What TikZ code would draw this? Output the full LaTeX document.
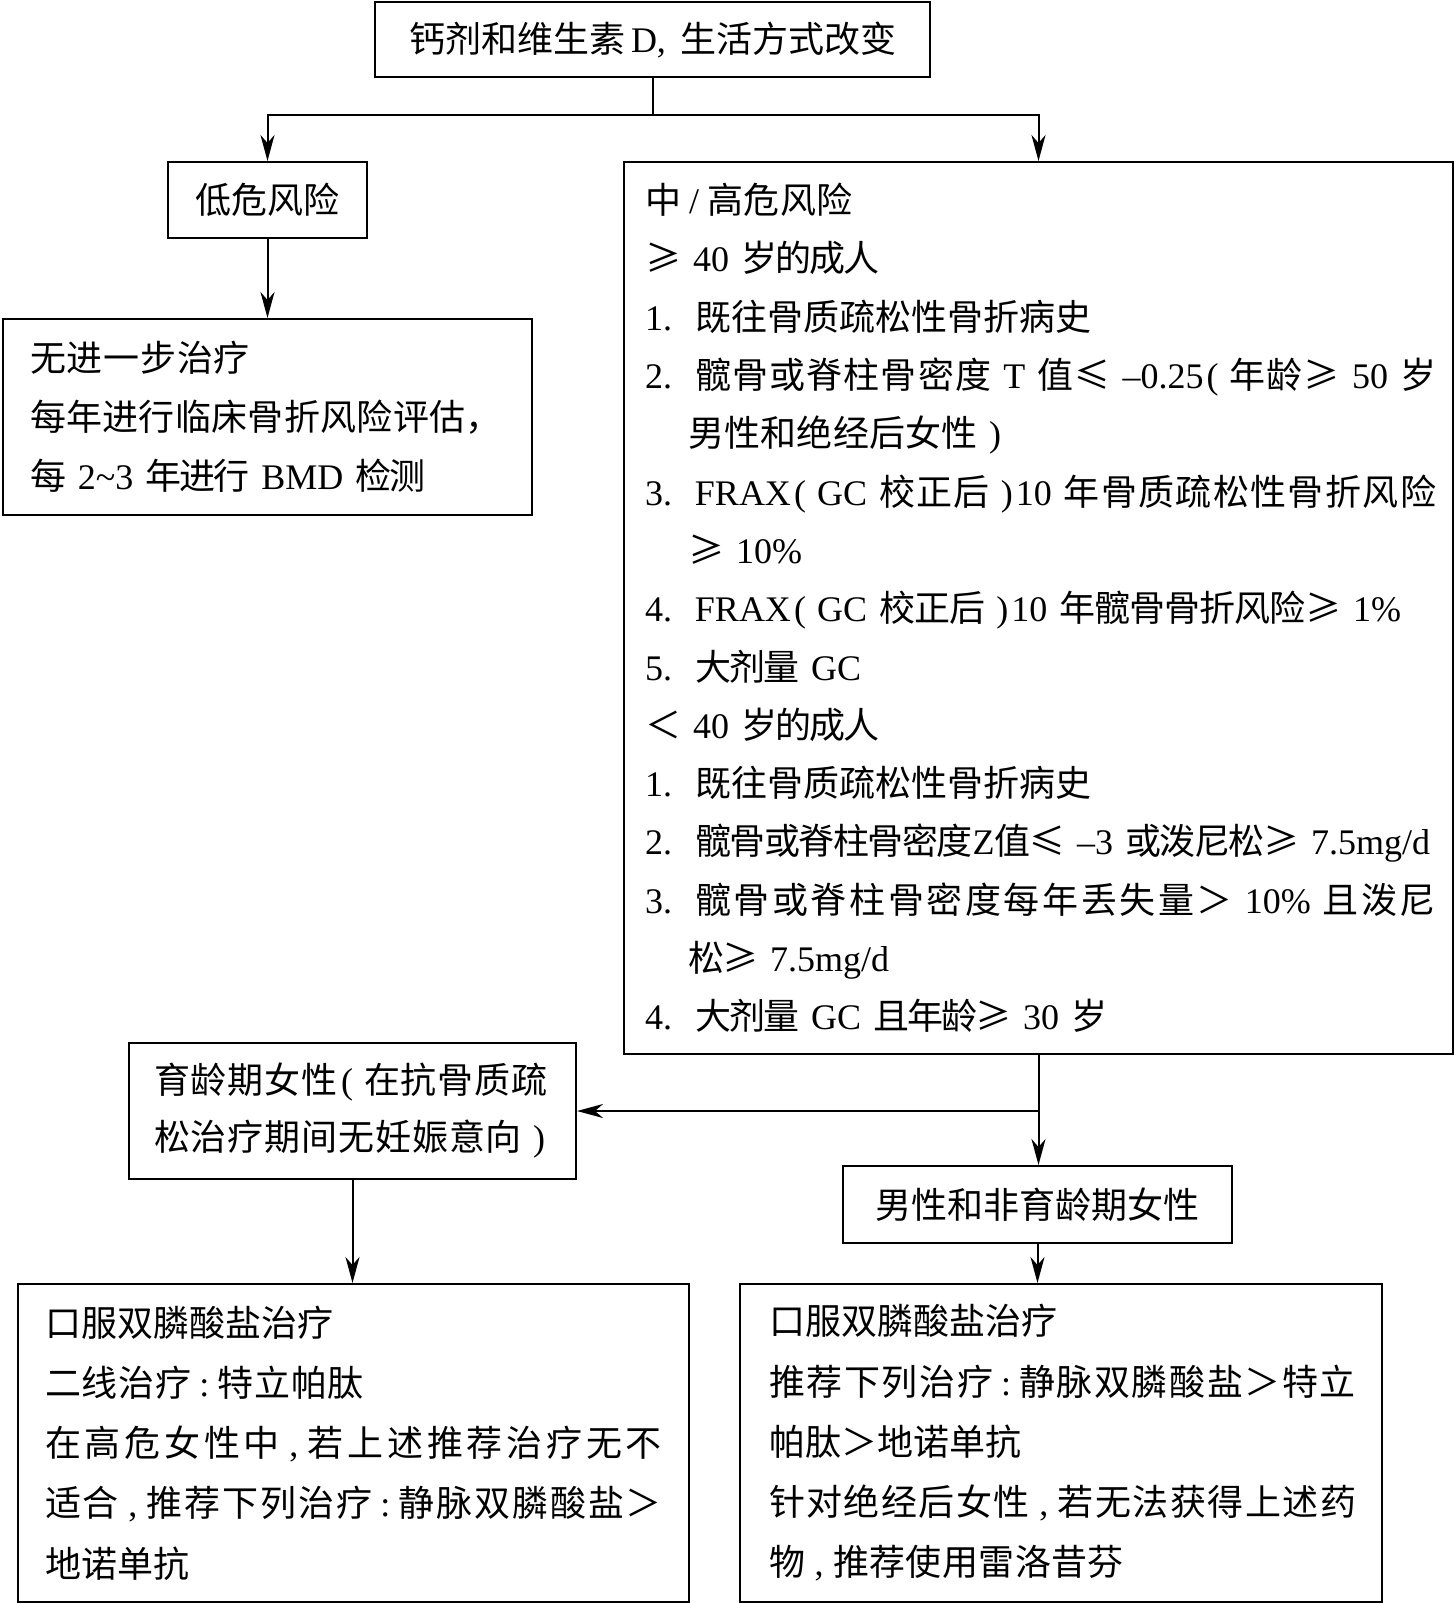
\documentclass[tikz,border=0pt]{standalone}
\usepackage{fontspec}
\setmainfont{Noto Sans CJK SC}
\newfontfamily\latf{Liberation Serif}
\usetikzlibrary{arrows.meta}
% stretchable glue between CJK characters (used by justified lines)
\XeTeXinterchartokenstate=1
\newXeTeXintercharclass\Xcls
\newcount\Xc
\Xc="4E00 \loop\XeTeXcharclass\Xc=\Xcls \advance\Xc by 1 \ifnum\Xc<"A000 \repeat
\Xc="FF01 \loop\XeTeXcharclass\Xc=\Xcls \advance\Xc by 1 \ifnum\Xc<"FF5F \repeat
\XeTeXcharclass"2264=\Xcls
\XeTeXcharclass"2265=\Xcls
\XeTeXinterchartoks\Xcls\Xcls={\nobreak\hskip0pt plus 8pt minus 2pt\relax}
\newcommand\Xe[1]{{\latf #1}}
\newcommand\Xlp{\makebox[26pt][l]{\hspace{3pt}\Xe{(}}}
\newcommand\Xrp{\makebox[26pt][r]{\Xe{)}\hspace{3pt}}}
\newcommand\Xcm{\makebox[28pt][c]{\Xe{,}}}
\newcommand\Xcl{\makebox[26pt][c]{\Xe{:}}}
\newcommand\Xsl{\makebox[26pt][c]{\Xe{/}}}
\newcommand\Xnum[1]{\makebox[50pt][l]{\Xe{#1}}}
\newcommand\Xind{\hspace*{43pt}}
\newcommand\Xw[2]{\makebox[#1pt][s]{#2}}
\begin{document}
\begin{tikzpicture}[x=1pt,y=-1pt,
  box/.style={draw, line width=2pt, anchor=north west, inner ysep=0pt, align=left},
  cbox/.style={draw, line width=2pt, anchor=north west, inner ysep=0pt, inner xsep=0pt, font=\fontsize{36}{40}\selectfont},
  ln/.style={line width=2pt},
  arr/.style={line width=2pt, -{Stealth[length=26pt,width=14pt,inset=8pt]}}]
\useasboundingbox (0,0) rectangle (1455,1603);

\node[cbox, minimum width=555pt, minimum height=75pt] (top) at (374,1)
  {钙剂和维生素\hspace{6pt}\Xe{D,}\hspace{14pt}生活方式改变};

\node[cbox, minimum width=199pt, minimum height=76pt] (low) at (167,161) {低危风险};

\node[box, font=\fontsize{36}{58.3}\selectfont, text width=787pt, inner xsep=21pt, minimum height=892pt] (high) at (623,161) {%
\Xw{208}{中\Xsl 高危风险}\\
\Xw{234}{≥~\Xe{40}~岁的成人}\\
\Xw{446}{\Xnum{1.}既往骨质疏松性骨折病史}\\
\Xw{791}{\Xnum{2.}髋骨或脊柱骨密度~\Xe{T}~值≤~\Xe{–0.25}\Xlp 年龄≥~\Xe{50}~岁}\\
\Xw{359}{\Xind 男性和绝经后女性\Xrp}\\
\Xw{791}{\Xnum{3.}\Xe{FRAX}\Xlp\Xe{GC}~校正后\Xrp\Xe{10}~年骨质疏松性骨折风险}\\
\Xw{152}{\Xind ≥~\Xe{10\%}}\\
\Xw{756}{\Xnum{4.}\Xe{FRAX}\Xlp\Xe{GC}~校正后\Xrp\Xe{10}~年髋骨骨折风险≥~\Xe{1\%}}\\
\Xw{216}{\Xnum{5.}大剂量~\Xe{GC}}\\
\Xw{234}{＜~\Xe{40}~岁的成人}\\
\Xw{446}{\Xnum{1.}既往骨质疏松性骨折病史}\\
\Xw{785}{\Xnum{2.}髋骨或脊柱骨密度\Xe{Z}值≤~\Xe{–3}~或泼尼松≥~\Xe{7.5mg/d}}\\
\Xw{791}{\Xnum{3.}髋骨或脊柱骨密度每年丢失量＞~\Xe{10\%}~且泼尼}\\
\Xw{240}{\Xind 松≥~\Xe{7.5mg/d}}\\
\Xw{458}{\Xnum{4.}大剂量~\Xe{GC}~且年龄≥~\Xe{30}~岁}};

\node[box, font=\fontsize{36}{59}\selectfont, text width=475pt, inner xsep=27pt, minimum height=196pt] (lowres) at (2,318) {%
\Xw{220}{无进一步治疗}\\
\Xw{472}{每年进行临床骨折风险评估，}\\
\Xw{385}{每~\Xe{2\textasciitilde 3}~年进行~\Xe{BMD}~检测}};

\node[box, font=\fontsize{36}{57}\selectfont, text width=397pt, inner xsep=25pt, minimum height=136pt] (child) at (128,1042) {%
\Xw{394}{育龄期女性\Xlp 在抗骨质疏}\\
\Xw{394}{松治疗期间无妊娠意向\Xrp}};

\node[cbox, minimum width=389pt, minimum height=77pt] (men) at (842,1165) {男性和非育龄期女性};

\node[box, font=\fontsize{36}{60.25}\selectfont, text width=617pt, inner xsep=27pt, minimum height=318pt] (bl) at (17,1283) {%
\Xw{289}{口服双膦酸盐治疗}\\
\Xw{319}{二线治疗\Xcl 特立帕肽}\\
\Xw{617}{在高危女性中\Xcm 若上述推荐治疗无不}\\
\Xw{617}{适合\Xcm 推荐下列治疗\Xcl 静脉双膦酸盐＞}\\
地诺单抗};

\node[box, font=\fontsize{36}{60.25}\selectfont, text width=584pt, inner xsep=29pt, minimum height=318pt] (br) at (739,1283) {%
\Xw{289}{口服双膦酸盐治疗}\\
\Xw{587}{推荐下列治疗\Xcl 静脉双膦酸盐＞特立}\\
帕肽＞地诺单抗\\
\Xw{587}{针对绝经后女性\Xcm 若无法获得上述药}\\
\Xw{355}{物\Xcm 推荐使用雷洛昔芬}};

% connectors
\draw[ln] (top.south) -- ++(0,37) coordinate (sp);
\draw[arr] (sp) -| (low.north);
\draw[arr] (sp) -| (high.north);
\draw[arr] (low.south) -- (lowres.north);
\draw[arr] (high.south) -- (high.south |- men.north);
\draw[arr] (high.south |- child.east) -- (child.east);
\draw[arr] (child.south) -- (child.south |- bl.north);
\draw[arr] (men.south) -- (men.south |- br.north);
\end{tikzpicture}
\end{document}
